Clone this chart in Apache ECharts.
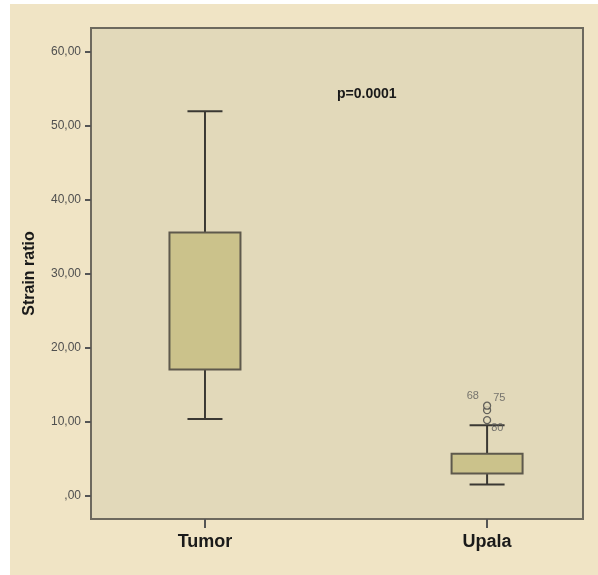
<!DOCTYPE html>
<html>
<head>
<meta charset="utf-8">
<script src="https://cdn.jsdelivr.net/npm/echarts@6/dist/echarts.min.js"></script>
<style>
html,body{margin:0;padding:0;background:#ffffff;}
#wrap{position:absolute;left:10px;top:4px;width:588px;height:571px;background:#f0e4c5;}
#chart{position:absolute;left:0;top:0;width:598px;height:575px;}
</style>
</head>
<body>
<div id="wrap"></div>
<div id="chart"></div>
<script>
// ---- data ----
var categories = ['Tumor', 'Upala'];
var categoryPos = [1, 2];
var whiskerLow = [10.4, 1.55];
var q1 = [17.1, 3.05];
var q3 = [35.6, 5.7];
var whiskerHigh = [52.0, 9.55];
var outlierValues = [10.25, 11.6, 12.2];
var outlierIds = ['80', '75', '68'];
var yTicks = [0, 10, 20, 30, 40, 50, 60];
var pText = 'p=0.0001';

// ---- styles ----
var boxWidthPx = 71;
var capWidthPx = 35;
var plotBg = '#e2d9ba';
var boxFill = '#cbc28b';
var boxLine = '#5e594c';
var whiskerColor = '#3a3833';
var labelOffsets = { '80': { pos: 'right', off: [-2, 8] }, '75': { pos: 'right', off: [0, -12] }, '68': { pos: 'left', off: [-2, -10] } };

var boxData = categories.map(function (c, i) {
  return [categoryPos[i], whiskerLow[i], q1[i], q3[i], whiskerHigh[i]];
});
var outlierData = outlierValues.map(function (v, i) {
  var o = labelOffsets[outlierIds[i]];
  return {
    value: [categoryPos[1], v],
    name: outlierIds[i],
    label: { show: true, formatter: outlierIds[i], position: o.pos, offset: o.off }
  };
});

var chart = echarts.init(document.getElementById('chart'), null, { renderer: 'canvas' });
chart.setOption({
  backgroundColor: 'transparent',
  animation: false,
  title: {
    text: pText, left: 332, top: 82,
    textStyle: { fontFamily: 'Liberation Sans', fontSize: 14, fontWeight: 'bold', color: '#1a1a1a' }
  },
  grid: {
    left: 91, right: 15, top: 28, bottom: 56,
    show: true, backgroundColor: plotBg, borderColor: '#6d695e', borderWidth: 2
  },
  xAxis: {
    type: 'value', min: 0.596, max: 2.34,
    splitLine: { show: false },
    axisLine: { show: false, onZero: false },
    axisTick: { show: true, customValues: categoryPos, length: 9, lineStyle: { color: '#555', width: 2 } },
    axisLabel: {
      customValues: categoryPos, margin: 14,
      formatter: function (v) { var i = categoryPos.indexOf(v); return i >= 0 ? categories[i] : ''; },
      fontFamily: 'Liberation Sans', fontSize: 18, fontWeight: 'bold', color: '#1a1a1a'
    }
  },
  yAxis: {
    type: 'value', min: -3.11, max: 63.24,
    name: 'Strain ratio', nameLocation: 'middle', nameGap: 53,
    nameTextStyle: { fontFamily: 'Liberation Sans', fontSize: 16, fontWeight: 'bold', color: '#1a1a1a' },
    splitLine: { show: false },
    axisLine: { show: false, onZero: false },
    axisTick: { show: true, customValues: yTicks, length: 6, lineStyle: { color: '#555', width: 2 } },
    axisLabel: {
      customValues: yTicks, margin: 10,
      formatter: function (v) { var s = v.toFixed(2).replace('.', ','); return v === 0 ? ',00' : s; },
      fontFamily: 'Liberation Sans', fontSize: 12, color: '#4f4f4f'
    }
  },
  series: [
    {
      type: 'custom',
      data: boxData,
      encode: { x: 0, y: [1, 2, 3, 4] },
      renderItem: function (params, api) {
        var x = api.value(0);
        var pLow = api.coord([x, api.value(1)]);
        var pQ1 = api.coord([x, api.value(2)]);
        var pQ3 = api.coord([x, api.value(3)]);
        var pHigh = api.coord([x, api.value(4)]);
        var cx = pLow[0];
        var hw = boxWidthPx / 2, cw = capWidthPx / 2;
        var lineStyle = { stroke: whiskerColor, lineWidth: 2 };
        return {
          type: 'group',
          children: [
            { type: 'line', shape: { x1: cx, y1: pQ3[1], x2: cx, y2: pHigh[1] }, style: lineStyle },
            { type: 'line', shape: { x1: cx, y1: pQ1[1], x2: cx, y2: pLow[1] }, style: lineStyle },
            { type: 'line', shape: { x1: cx - cw, y1: pHigh[1], x2: cx + cw, y2: pHigh[1] }, style: lineStyle },
            { type: 'line', shape: { x1: cx - cw, y1: pLow[1], x2: cx + cw, y2: pLow[1] }, style: lineStyle },
            { type: 'rect', shape: { x: cx - hw, y: pQ3[1], width: boxWidthPx, height: pQ1[1] - pQ3[1] },
              style: { fill: boxFill, stroke: boxLine, lineWidth: 2 } }
          ]
        };
      }
    },
    {
      type: 'scatter',
      data: outlierData,
      symbol: 'circle', symbolSize: 7,
      itemStyle: { color: plotBg, borderColor: '#444', borderWidth: 1.3 },
      label: { fontFamily: 'Liberation Sans', fontSize: 11, color: '#5a5a5a', distance: 2 },
      z: 5
    }
  ]
});
</script>
</body>
</html>
